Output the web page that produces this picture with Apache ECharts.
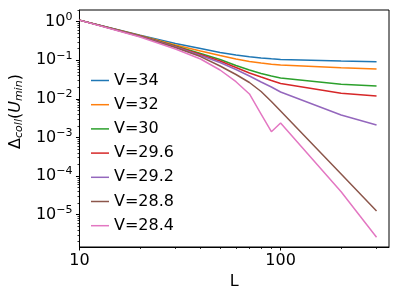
<!DOCTYPE html>
<html>
<head>
<meta charset="utf-8">
<script src="https://cdn.jsdelivr.net/npm/echarts@6/dist/echarts.min.js"></script>
<style>
html,body{margin:0;padding:0;background:#fff;}
#chart{width:399px;height:299px;}
</style>
</head>
<body>
<div id="chart"></div>
<script>
// ---- data ----
const L = [10, 20, 30, 40, 50, 60, 70, 80, 90, 100, 200, 300];
const seriesNames = ['V=34', 'V=32', 'V=30', 'V=29.6', 'V=29.2', 'V=28.8', 'V=28.4'];
const V34  = [1.1, 0.444, 0.272, 0.202, 0.159, 0.137, 0.123, 0.115, 0.109, 0.105, 0.0959, 0.092];
const V32  = [1.1, 0.439, 0.249, 0.174, 0.133, 0.108, 0.0931, 0.0851, 0.0793, 0.0755, 0.0643, 0.0595];
const V30  = [1.1, 0.431, 0.235, 0.150, 0.105, 0.0733, 0.0561, 0.0455, 0.0392, 0.0348, 0.0239, 0.0216];
const V296 = [1.1, 0.426, 0.228, 0.141, 0.0959, 0.0651, 0.0469, 0.0369, 0.0300, 0.0251, 0.0140, 0.0119];
const V292 = [1.1, 0.421, 0.221, 0.133, 0.0877, 0.0578, 0.0392, 0.0274, 0.0203, 0.0151, 0.00383, 0.00211];
const V288 = [1.1, 0.416, 0.215, 0.125, 0.0712, 0.0429, 0.0266, 0.01555, 0.00857, 0.00486, 1.13e-4, 1.25e-5];
const V284 = [1.1, 0.402, 0.196, 0.108, 0.0561, 0.0279, 0.0134, 0.00406, 0.00141, 0.00238, 3.94e-5, 2.60e-6];
const seriesValues = [V34, V32, V30, V296, V292, V288, V284];
const colors = ['#1f77b4', '#ff7f0e', '#2ca02c', '#d62728', '#9467bd', '#8c564b', '#e377c2'];
const xTickValues = [10, 100];
const yTickExponents = [0, -1, -2, -3, -4, -5];
const xMin = 10, xMax = 346;
const yMin = 1.456e-6, yMax = 2.01;

// ---- derived ticks ----
const yTickValues = yTickExponents.map(e => Math.pow(10, e));
const xMinor = [];
[10, 100].forEach(d => { for (let k = 2; k <= 9; k++) { const v = k * d; if (v > xMin && v < xMax) xMinor.push(v); } });
const yMinor = [];
for (let e = -6; e <= 0; e++) { for (let k = 2; k <= 9; k++) { const v = k * Math.pow(10, e); if (v > yMin && v < yMax) yMinor.push(v); } }

const FONT = 'DejaVu Sans';
const chart = echarts.init(document.getElementById('chart'), null, {renderer: 'canvas'});

function supLabel(v) {
  const e = Math.round(Math.log10(v));
  const s = e < 0 ? '\u2212' + (-e) : String(e);
  return '10{s|' + s + '}';
}

const option = {
  animation: false,
  backgroundColor: '#fff',
  grid: {left: 75, top: 10, right: 10, bottom: 52, show: true, borderColor: '#000', borderWidth: 1, backgroundColor: 'transparent'},
  legend: {
    orient: 'vertical', left: 86, top: 67.5,
    itemWidth: 18, itemHeight: 16, itemGap: 8.2,
    icon: 'path://M0 0H120V10H0Z', symbolKeepAspect: true,
    textStyle: {fontFamily: FONT, fontSize: 16, color: '#000'},
    data: seriesNames
  },
  xAxis: [
    {
      type: 'log', logBase: 10, min: xMin, max: xMax,
      name: 'L', nameLocation: 'middle', nameGap: 25,
      nameTextStyle: {fontFamily: FONT, fontSize: 16, color: '#000'},
      axisLine: {show: true, lineStyle: {color: '#000', width: 1}},
      axisTick: {show: true, inside: false, length: 3.5, lineStyle: {color: '#000', width: 1}, customValues: xTickValues},
      axisLabel: {show: true, margin: 6, fontFamily: FONT, fontSize: 16, color: '#000', customValues: xTickValues, formatter: v => String(Math.round(v))},
      splitLine: {show: false}, minorTick: {show: false}
    },
    {
      type: 'log', logBase: 10, min: xMin, max: xMax, position: 'bottom',
      axisLine: {show: false},
      axisTick: {show: true, inside: false, length: 2, lineStyle: {color: '#000', width: 0.8}, customValues: xMinor},
      axisLabel: {show: false},
      splitLine: {show: false}
    }
  ],
  yAxis: [
    {
      type: 'log', logBase: 10, min: yMin, max: yMax,
      name: '\u0394{sub|coll}({it|U}{sub|min})', nameLocation: 'middle', nameGap: 47, nameRotate: 90,
      nameTextStyle: {
        fontFamily: FONT, fontSize: 16, color: '#000', padding: [0, 0, 0, 34],
        rich: {
          sub: {fontFamily: FONT, fontSize: 11, fontStyle: 'italic', color: '#000', padding: [7, 0, 0, 0]},
          it: {fontFamily: FONT, fontSize: 16, fontStyle: 'italic', color: '#000'}
        }
      },
      axisLine: {show: true, lineStyle: {color: '#000', width: 1}},
      axisTick: {show: true, inside: false, length: 3.5, lineStyle: {color: '#000', width: 1}, customValues: yTickValues},
      axisLabel: {
        show: true, margin: 7, fontFamily: FONT, fontSize: 16, color: '#000', customValues: yTickValues,
        formatter: supLabel,
        rich: {s: {fontFamily: FONT, fontSize: 11, color: '#000', padding: [0, 0, 9, 0]}}
      },
      splitLine: {show: false}, minorTick: {show: false}
    },
    {
      type: 'log', logBase: 10, min: yMin, max: yMax, position: 'left',
      axisLine: {show: false},
      axisTick: {show: true, inside: false, length: 2, lineStyle: {color: '#000', width: 0.8}, customValues: yMinor},
      axisLabel: {show: false},
      splitLine: {show: false}
    }
  ],
  series: seriesNames.map((name, i) => ({
    name: name, type: 'line', xAxisIndex: 0, yAxisIndex: 0,
    symbol: 'none', smooth: false,
    color: colors[i],
    lineStyle: {color: colors[i], width: 1.5},
    data: L.map((x, j) => [x, seriesValues[i][j]])
  }))
};
chart.setOption(option);
</script>
</body>
</html>
